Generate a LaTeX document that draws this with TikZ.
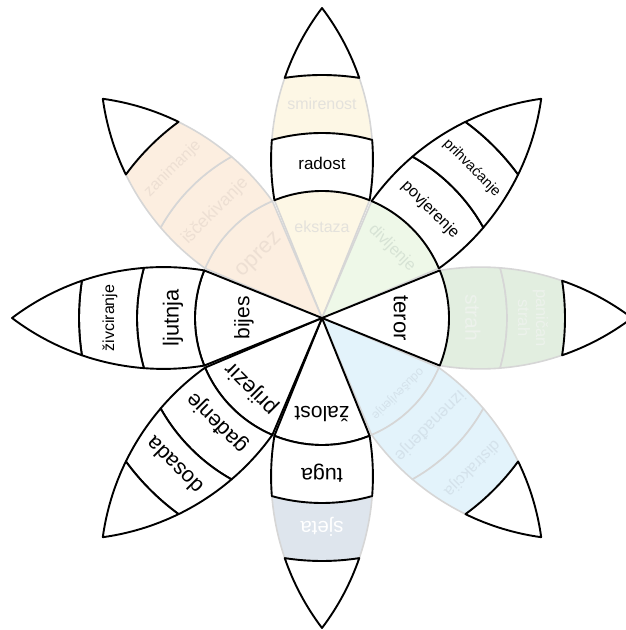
\documentclass[tikz,border=0pt]{standalone}
\usepackage{fontspec}
\setmainfont{Liberation Sans}
\definecolor{yelF}{HTML}{FDF7E5}
\definecolor{oraF}{HTML}{FCEEE0}
\definecolor{grnF}{HTML}{EEF8E8}
\definecolor{grnD}{HTML}{E2EEE0}
\definecolor{bluF}{HTML}{E3F3FB}
\definecolor{gryF}{HTML}{DEE5ED}
\definecolor{fadeLine}{HTML}{D6D6D6}
\definecolor{yelT}{HTML}{E4E2DC}
\definecolor{oraT}{HTML}{EDDFD3}
\definecolor{grnT}{HTML}{D7E3D5}
\definecolor{grnDT}{HTML}{EDF2EC}
\definecolor{bluT}{HTML}{D4E2EB}
\tikzset{
  fadereg/.style={draw=fadeLine, line width=1.6pt, line join=round},
  blackreg/.style={draw=black, fill=white, line width=1.9pt, line join=round},
  lbl/.style={inner sep=0pt, align=center},
  petal/.style={shift={(322pt,312pt)}, rotate=#1}
}
\newcommand{\PWedge}[1]{\path[#1] (0pt,0pt) -- (22:127pt) arc[start angle=22,end angle=-22,radius=127pt] -- cycle;}
\newcommand{\PBandA}[1]{\path[#1] (22:127pt) arc[start angle=99.35,end angle=85.53,radius=250.9pt] arc[start angle=15.73,end angle=-15.73,radius=185pt] arc[start angle=-85.53,end angle=-99.35,radius=250.9pt] arc[start angle=-22,end angle=22,radius=127pt] -- cycle;}
\newcommand{\PBandB}[1]{\path[#1] (15.73:185pt) arc[start angle=85.53,end angle=71.02,radius=250.9pt] arc[start angle=8.82,end angle=-8.82,radius=243pt] arc[start angle=-71.02,end angle=-85.53,radius=250.9pt] arc[start angle=-15.73,end angle=15.73,radius=185pt] -- cycle;}
\newcommand{\PTip}[1]{\path[#1] (8.82:243pt) arc[start angle=71.02,end angle=52.86,radius=250.9pt] arc[start angle=-52.86,end angle=-71.02,radius=250.9pt] arc[start angle=-8.82,end angle=8.82,radius=243pt] -- cycle;}
\newcommand{\Lbl}[6]{\node[lbl,text=#4,rotate=#5,font=\fontsize{#3}{#3}\selectfont] (#1) at (#2pt,0pt) {#6};}
\begin{document}
\begin{tikzpicture}[x=1pt,y=1pt]
\useasboundingbox (0,0) rectangle (625,630);
% ---------- pass 1: faded regions
\begin{scope}[petal=90]
  \PWedge{fadereg,fill=yelF}
  \PBandB{fadereg,fill=yelF}
\end{scope}
\begin{scope}[petal=45]
  \PWedge{fadereg,fill=grnF}
\end{scope}
\begin{scope}[petal=0]
  \PBandA{fadereg,fill=grnD}
  \PBandB{fadereg,fill=grnD}
\end{scope}
\begin{scope}[petal=-45]
  \PWedge{fadereg,fill=bluF}
  \PBandA{fadereg,fill=bluF}
  \PBandB{fadereg,fill=bluF}
\end{scope}
\begin{scope}[petal=-90]
  \PBandB{fadereg,fill=gryF}
\end{scope}
\begin{scope}[petal=135]
  \PWedge{fadereg,fill=oraF}
  \PBandA{fadereg,fill=oraF}
  \PBandB{fadereg,fill=oraF}
\end{scope}
% ---------- pass 2: highlighted regions
\begin{scope}[petal=90]
  \PBandA{blackreg}
  \PTip{blackreg}
\end{scope}
\begin{scope}[petal=45]
  \PBandA{blackreg}
  \PBandB{blackreg}
  \PTip{blackreg}
\end{scope}
\begin{scope}[petal=0]
  \PWedge{blackreg}
  \PTip{blackreg}
\end{scope}
\begin{scope}[petal=-45]
  \PTip{blackreg}
\end{scope}
\begin{scope}[petal=-90]
  \PWedge{blackreg}
  \PBandA{blackreg}
  \PTip{blackreg}
\end{scope}
\begin{scope}[petal=-135]
  \PWedge{blackreg}
  \PBandA{blackreg}
  \PBandB{blackreg}
  \PTip{blackreg}
\end{scope}
\begin{scope}[petal=180]
  \PWedge{blackreg}
  \PBandA{blackreg}
  \PBandB{blackreg}
  \PTip{blackreg}
\end{scope}
\begin{scope}[petal=135]
  \PTip{blackreg}
\end{scope}
% ---------- pass 3: labels
\begin{scope}[petal=90]
  \Lbl{ekstaza}{91}{16}{yelT}{0}{ekstaza}
  \Lbl{radost}{155}{17}{black}{0}{radost}
  \Lbl{smirenost}{214}{16}{yelT}{0}{smirenost}
\end{scope}
\begin{scope}[petal=45]
  \Lbl{divljenje}{99}{16.4}{grnT}{-45}{divljenje}
  \Lbl{povjerenje}{153}{16}{black}{-45}{povjerenje}
  \Lbl{prihvacanje}{212}{14.5}{black}{-45}{prihvaćanje}
\end{scope}
\begin{scope}[petal=0]
  \Lbl{teror}{79}{22}{black}{-90}{teror}
  \Lbl{strah}{151}{21}{grnDT}{-90}{strah}
  \node[lbl,text=grnDT,rotate=-90,font=\fontsize{16.5}{18}\selectfont] (panicanstrah) at (211pt,0pt) {paničan\\strah};
\end{scope}
\begin{scope}[petal=-45]
  \Lbl{odusevljenje}{107}{12.3}{bluT}{-135}{oduševljenje}
  \Lbl{iznenadjenje}{152}{17}{bluT}{-135}{iznenađenje}
  \Lbl{distrakcija}{212}{16.2}{bluT}{-135}{distrakcija}
\end{scope}
\begin{scope}[petal=-90]
  \Lbl{zalost}{96}{21}{black}{180}{žalost}
  \Lbl{tuga}{155}{21.5}{black}{180}{tuga}
  \Lbl{sjeta}{209}{20.5}{white}{180}{sjeta}
\end{scope}
\begin{scope}[petal=-135]
  \Lbl{prijezir}{100}{22}{black}{135}{prijezir}
  \Lbl{gadjenje}{148}{21.5}{black}{135}{gađenje}
  \Lbl{dosada}{209}{21.6}{black}{135}{dosada}
\end{scope}
\begin{scope}[petal=180]
  \Lbl{bijes}{78}{21}{black}{90}{bijes}
  \Lbl{ljutnja}{149}{21.8}{black}{90}{ljutnja}
  \Lbl{zivciranje}{212}{16}{black}{90}{živciranje}
\end{scope}
\begin{scope}[petal=135]
  \Lbl{oprez}{88}{22}{oraT}{45}{oprez}
  \Lbl{iscekivanje}{151}{17.6}{oraT}{45}{iščekivanje}
  \Lbl{zanimanje}{211}{16}{oraT}{45}{zanimanje}
\end{scope}
\end{tikzpicture}
\end{document}
